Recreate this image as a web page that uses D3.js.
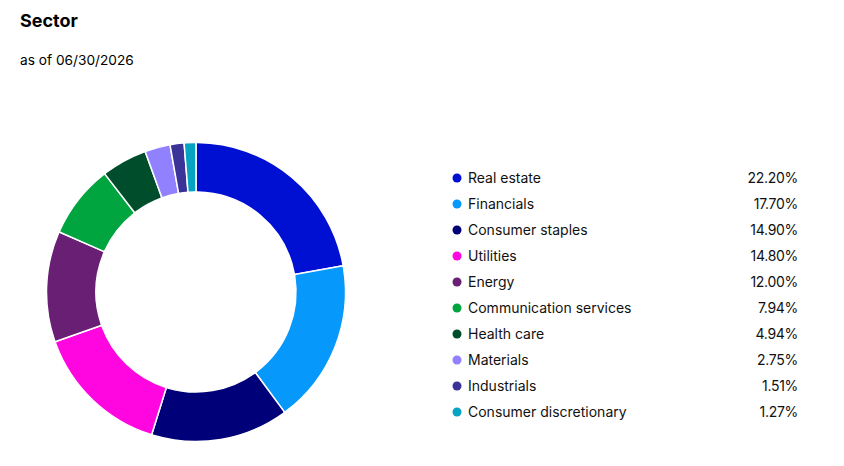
<!DOCTYPE html>
<html>
<head>
<meta charset="utf-8">
<script src="https://cdn.jsdelivr.net/npm/d3@7"></script>
<style>
  body { margin: 0; background: #fff; }
  svg { display: block; font-family: Inter, "Noto Sans", sans-serif; }
</style>
</head>
<body>
<svg id="chart" width="844" height="466"></svg>
<script>
const sectors = ["Real estate", "Financials", "Consumer staples", "Utilities", "Energy",
    "Communication services", "Health care", "Materials", "Industrials", "Consumer discretionary"];
const weights = [22.20, 17.70, 14.90, 14.80, 12.00, 7.94, 4.94, 2.75, 1.51, 1.27];
const colors = ["#0010d3", "#0699fb", "#000078", "#ff06e1", "#681f74",
    "#00a53f", "#004d2b", "#9181ff", "#3a3499", "#07a3c3"];

const data = sectors.map((name, i) => ({ name: name, value: weights[i] }));

const svg = d3.select("#chart");

svg.append("text")
    .attr("x", 20).attr("y", 27)
    .attr("font-size", 18).attr("font-weight", 700)
    .attr("fill", "#000")
    .text("Sector");

svg.append("text")
    .attr("x", 20).attr("y", 65)
    .attr("font-size", 13.7)
    .attr("fill", "#000")
    .text("as of 06/30/2026");

const color = d3.scaleOrdinal().domain(sectors).range(colors);

const pie = d3.pie().value(d => d.value).sort(null);
const arc = d3.arc().innerRadius(100).outerRadius(149.5).cornerRadius(1.5);

svg.append("g")
    .attr("transform", "translate(196,292)")
    .selectAll("path")
    .data(pie(data))
    .join("path")
    .attr("d", arc)
    .attr("fill", d => color(d.data.name))
    .attr("stroke", "#fff")
    .attr("stroke-width", 1.5);

const y = d3.scalePoint().domain(sectors).range([178, 412]);

const row = svg.append("g")
    .selectAll("g")
    .data(data)
    .join("g")
    .attr("transform", d => `translate(0,${y(d.name)})`);

row.append("circle")
    .attr("cx", 457).attr("cy", 0).attr("r", 4.5)
    .attr("fill", d => color(d.name));

row.append("text")
    .attr("x", 468).attr("dy", "0.35em")
    .attr("font-size", 14).attr("fill", "#111")
    .text(d => d.name);

row.append("text")
    .attr("x", 798).attr("dy", "0.35em")
    .attr("text-anchor", "end")
    .attr("font-size", 14).attr("fill", "#111")
    .attr("letter-spacing", -0.3)
    .text(d => d.value.toFixed(2) + "%");
</script>
</body>
</html>
